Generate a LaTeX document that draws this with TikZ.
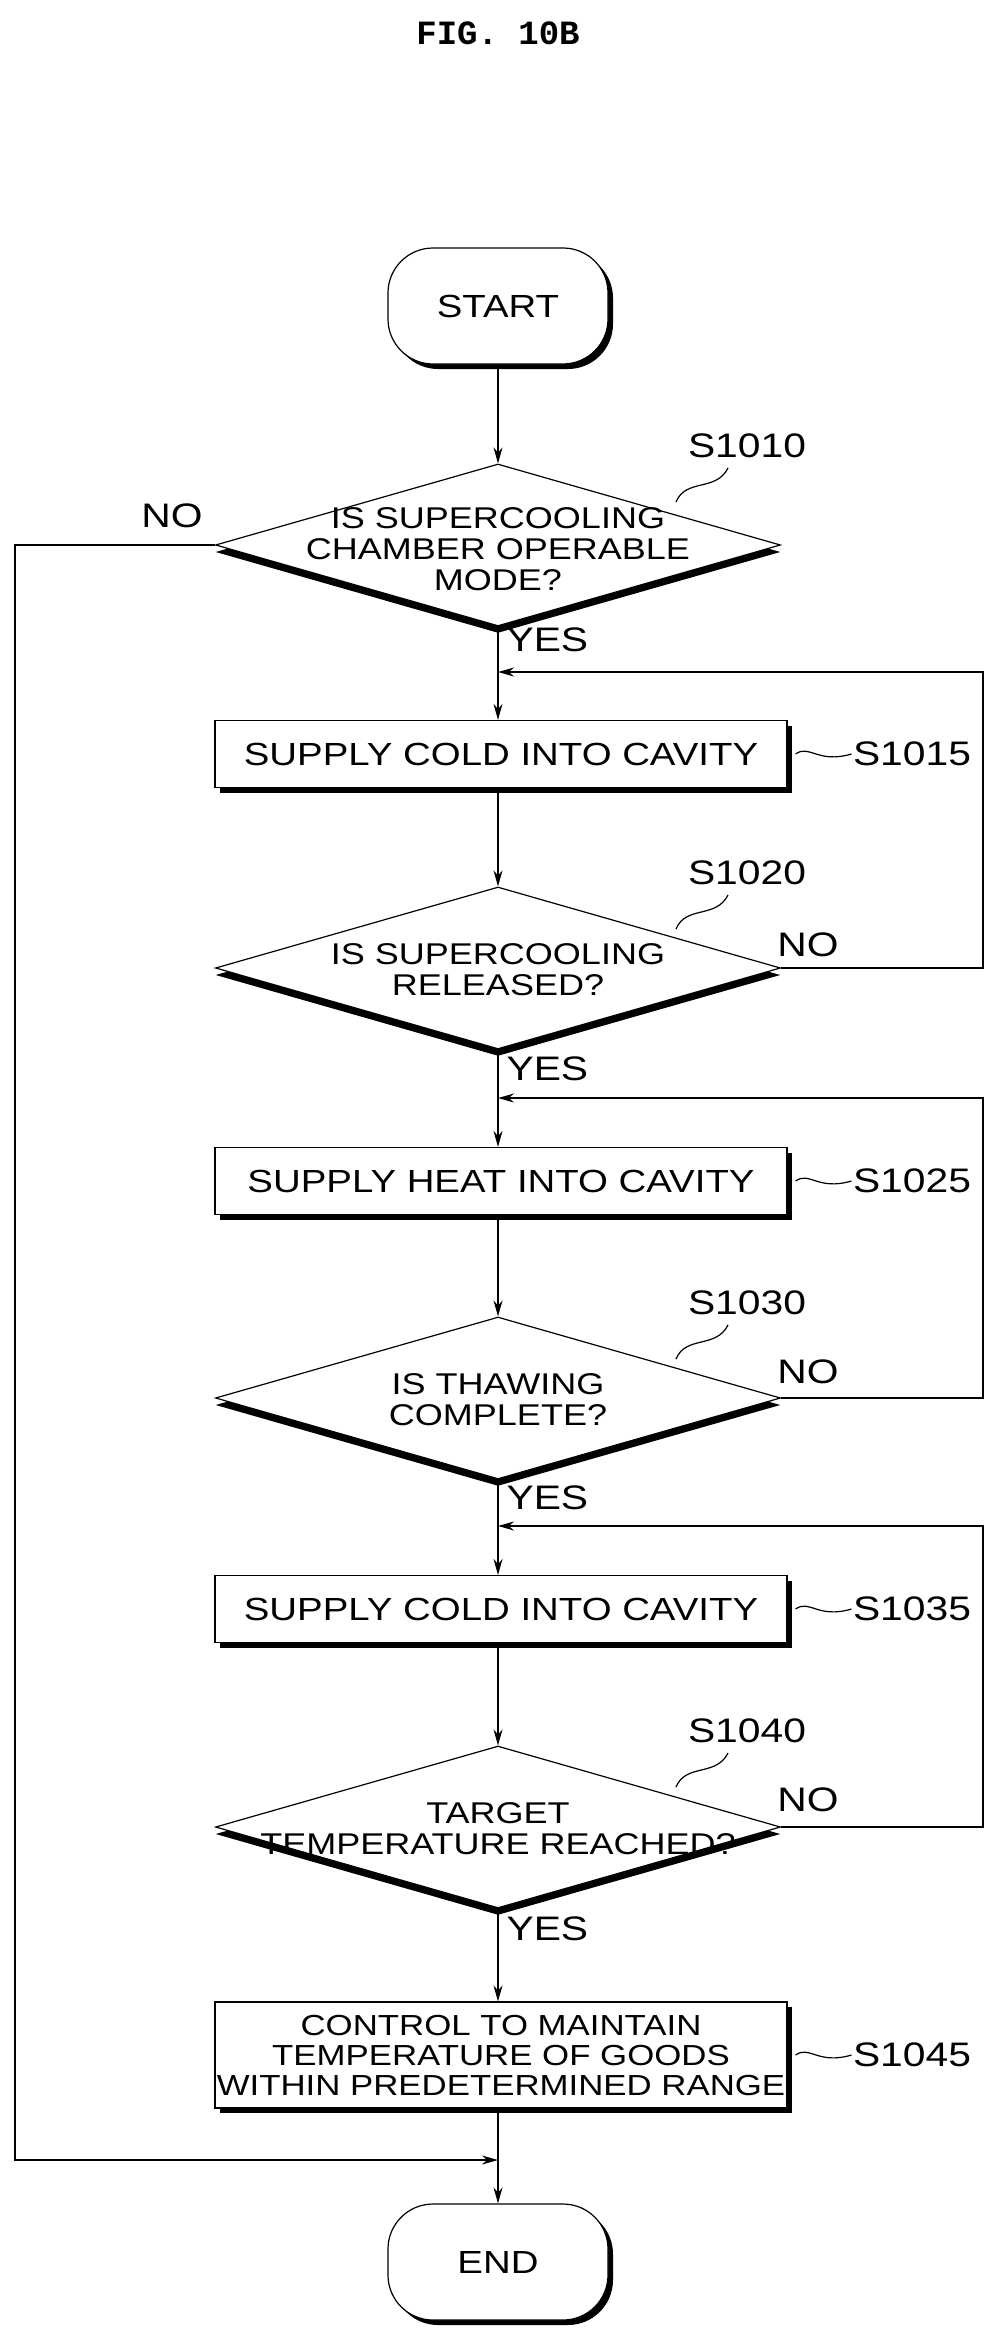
\documentclass[tikz,border=0pt]{standalone}
\usepackage{fontspec}
\setmainfont[FakeStretch=1.2]{Liberation Sans}
\newfontfamily\monof{Liberation Mono}
\usetikzlibrary{shapes.geometric,shadows,arrows.meta}
\begin{document}
\begin{tikzpicture}[x=1pt,y=-1pt,
  every node/.style={font=\fontsize{32}{36}\selectfont},
  shd/.style={drop shadow={opacity=1,fill=black,shadow xshift=5pt,shadow yshift=-5pt}},
  term/.style={draw,line width=1.2pt,fill=white,rounded corners=45pt,minimum width=220pt,minimum height=116pt,shd},
  proc/.style={draw,line width=1.2pt,fill=white,minimum width=572pt,minimum height=67pt,align=center,inner sep=0pt,shd},
  dec/.style={draw,line width=1.2pt,fill=white,diamond,minimum width=565pt,minimum height=162pt,inner sep=0pt,
     drop shadow={opacity=1,fill=black,shadow xshift=0pt,shadow yshift=-7pt}},
  txt/.style={align=center,font=\fontsize{30}{31}\selectfont},
  line/.style={line width=1.2pt},
  arr/.style={line width=1.2pt,-{Stealth[length=16pt,width=9pt]}},
  lab/.style={font=\fontsize{34}{36}\selectfont}]
\useasboundingbox (0,0) rectangle (1000,2349);
\node[font=\monof\bfseries\fontsize{34}{36}\selectfont] (title) at (498,33) {FIG. 10B};
\node[term] (start) at (498,306) {START};
\node[dec] (d1) at (498,545) {};
\node[txt] (t1) at (498,549) {IS SUPERCOOLING\\CHAMBER OPERABLE\\MODE?};
\node[proc] (b1) at (501,754) {SUPPLY COLD INTO CAVITY};
\node[dec] (d2) at (498,968) {};
\node[txt] (t2) at (498,970) {IS SUPERCOOLING\\RELEASED?};
\node[proc] (b2) at (501,1181) {SUPPLY HEAT INTO CAVITY};
\node[dec] (d3) at (498,1398) {};
\node[txt] (t3) at (498,1400) {IS THAWING\\COMPLETE?};
\node[proc] (b3) at (501,1609) {SUPPLY COLD INTO CAVITY};
\node[dec] (d4) at (498,1827) {};
\node[txt] (t4) at (498,1829) {TARGET\\TEMPERATURE REACHED?};
\node[proc,minimum height=106pt,font=\fontsize{29}{30}\selectfont] (b4) at (501,2055) {CONTROL TO MAINTAIN\\TEMPERATURE OF GOODS\\WITHIN PREDETERMINED RANGE};
\node[term] (end) at (498,2262) {END};
% step labels
\node[lab] (s1010) at (747,446) {S1010};
\node[lab] (s1015) at (912,754) {S1015};
\node[lab] (s1020) at (747,873) {S1020};
\node[lab] (s1025) at (912,1181) {S1025};
\node[lab] (s1030) at (747,1303) {S1030};
\node[lab] (s1035) at (912,1609) {S1035};
\node[lab] (s1040) at (747,1731) {S1040};
\node[lab] (s1045) at (912,2055) {S1045};
\foreach \y in {0,427,857,1285}{
  \draw[line] (676,{502+\y}) .. controls (686,{478+\y}) and (716,{492+\y}) .. (728,{468+\y});
}
\foreach \b/\s in {b1/s1015,b2/s1025,b3/s1035,b4/s1045}{
  \draw[line] ([xshift=8pt]\b.east) .. controls ([xshift=22pt,yshift=10pt]\b.east) and ([xshift=30pt,yshift=-10pt]\b.east) .. ([xshift=2pt]\s.west);
}
% main flow
\draw[arr] (start) -- (d1.north);
\draw[arr] (d1.south) -- (b1.north -| d1.south);
\draw[arr] (b1.south -| d1) -- (d2.north);
\draw[arr] (d2.south) -- (b2.north -| d2.south);
\draw[arr] (b2.south -| d2) -- (d3.north);
\draw[arr] (d3.south) -- (b3.north -| d3.south);
\draw[arr] (b3.south -| d3) -- (d4.north);
\draw[arr] (d4.south) -- (b4.north -| d4.south);
\draw[arr] (b4.south -| d4) -- (end.north);
% yes labels
\node[lab,anchor=west] (y1) at (503,640) {YES};
\node[lab,anchor=west] (y2) at (503,1069) {YES};
\node[lab,anchor=west] (y3) at (503,1498) {YES};
\node[lab,anchor=west] (y4) at (503,1929) {YES};
% loops
\coordinate (m1) at (498,672);
\coordinate (m2) at (498,1098);
\coordinate (m3) at (498,1526);
\draw[arr] (d2.east) -- (983,968) -- (983,672) -- (m1);
\draw[arr] (d3.east) -- (983,1398) -- (983,1098) -- (m2);
\draw[arr] (d4.east) -- (983,1827) -- (983,1526) -- (m3);
\node[lab] (n2) at (808,945) {NO};
\node[lab] (n3) at (808,1372) {NO};
\node[lab] (n4) at (808,1800) {NO};
% left NO
\coordinate (m4) at (498,2160);
\draw[arr] (d1.west) -- (15,545) -- (15,2160) -- (m4);
\node[lab] (n1) at (172,516) {NO};
\end{tikzpicture}
\end{document}
